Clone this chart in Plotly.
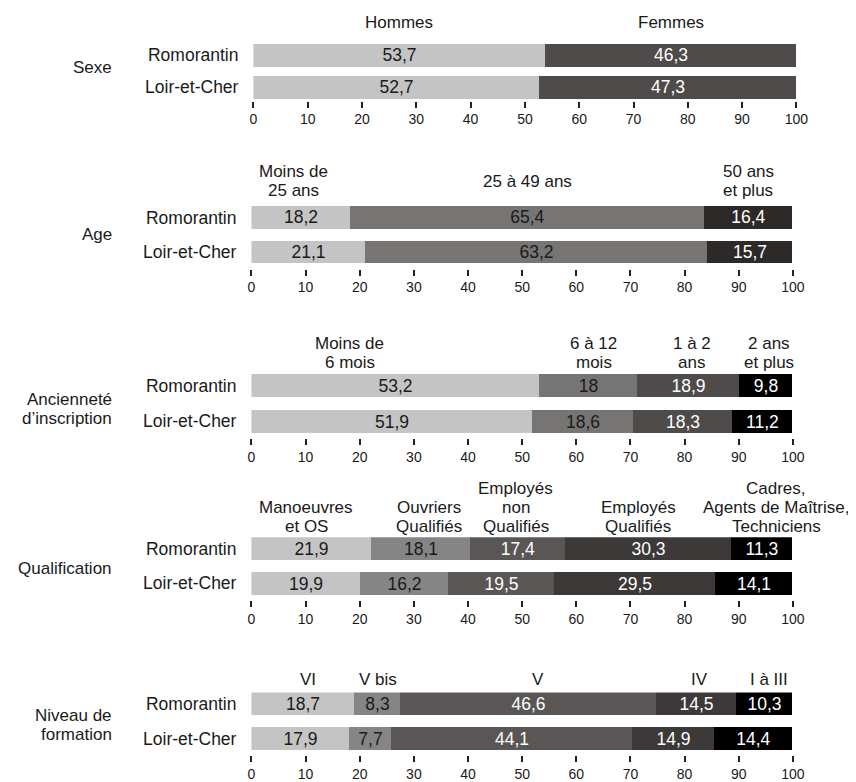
import plotly.graph_objects as go

W, H = 856, 782            # browser window
FW, FH = 864, 774          # figure size
# measured mapping from figure pixels to photographed pixels (horizontal)
SX, BX = 0.9825, 10.8
OY = 8                     # page body margin (vertical)
FONT = "Arial, 'Liberation Sans', sans-serif"

# ---------------- data ----------------
rows = ["Loir-et-Cher", "Romorantin"]

sexe_cats = ["Hommes", "Femmes"]
sexe_romo = [53.7, 46.3]
sexe_loir = [52.7, 47.3]

age_cats = ["Moins de<br>25 ans", "25 à 49 ans", "50 ans<br>et plus"]
age_romo = [18.2, 65.4, 16.4]
age_loir = [21.1, 63.2, 15.7]

anc_cats = ["Moins de<br>6 mois", "6 à 12<br>mois", "1 à 2<br>ans", "2 ans<br>et plus"]
anc_romo = [53.2, 18, 18.9, 9.8]
anc_loir = [51.9, 18.6, 18.3, 11.2]

qual_cats = ["Manoeuvres<br>et OS", "Ouvriers<br>Qualifiés", "Employés<br>non<br>Qualifiés",
             "Employés<br>Qualifiés", "Cadres,<br>Agents de Maîtrise,<br>Techniciens"]
qual_romo = [21.9, 18.1, 17.4, 30.3, 11.3]
qual_loir = [19.9, 16.2, 19.5, 29.5, 14.1]

niv_cats = ["VI", "V bis", "V", "IV", "I à III"]
niv_romo = [18.7, 8.3, 46.6, 14.5, 10.3]
niv_loir = [17.9, 7.7, 44.1, 14.9, 14.4]

titles = ["Sexe", "Age", "Ancienneté<br>d’inscription", "Qualification", "Niveau de<br>formation"]
x_ticks = [0, 10, 20, 30, 40, 50, 60, 70, 80, 90, 100]

# ---------------- styling / layout ----------------
C_L, C_M1, C_M2, C_D1, C_D2, C_K = "#c4c4c4", "#777573", "#868585", "#4f4b4a", "#3d3938", "#000000"
panels = [
    dict(cats=sexe_cats, romo=sexe_romo, loir=sexe_loir,
         colors=[C_L, C_D1], tcol=["#1a1a1a", "white"],
         x_px=(252.5, 796), y_px=(44, 101), yr=(-0.42, 1.36), bw=0.72,
         head_px=23, head_mode="bottom", head_dx=[0, 0], title_px=68),
    dict(cats=age_cats, romo=age_romo, loir=age_loir,
         colors=[C_L, C_M1, "#2d2928"], tcol=["#1a1a1a", "#1a1a1a", "white"],
         x_px=(250.5, 792.5), y_px=(207, 270), yr=(-0.483, 1.333), bw=0.665,
         head_px=182, head_mode="middle", head_dx=[-7, 0, 0], title_px=236),
    dict(cats=anc_cats, romo=anc_romo, loir=anc_loir,
         colors=[C_L, C_M1, C_D1, C_K], tcol=["#1a1a1a", "#1a1a1a", "white", "white"],
         x_px=(250.5, 792.5), y_px=(376, 440), yr=(-0.464, 1.32), bw=0.64,
         head_px=364, head_mode="bottom", head_dx=[-45, 5, 3, 3], title_px=411),
    dict(cats=qual_cats, romo=qual_romo, loir=qual_loir,
         colors=[C_L, C_M2, "#5a5655", C_D2, C_K], tcol=["#1a1a1a", "#1a1a1a", "white", "white", "white"],
         x_px=(250.5, 792.5), y_px=(540, 603), yr=(-0.477, 1.323), bw=0.657,
         head_px=529, head_mode="bottom", head_dx=[-5, 8, -2, -10, 14], title_px=571),
    dict(cats=niv_cats, romo=niv_romo, loir=niv_loir,
         colors=[C_L, C_M2, "#5a5655", C_D2, C_K], tcol=["#1a1a1a", "#1a1a1a", "white", "white", "white"],
         x_px=(250.5, 792.5), y_px=(696, 759), yr=(-0.477, 1.323), bw=0.657,
         head_px=683, head_mode="bottom", head_dx=[5, 1, 10, 3, 4], title_px=729),
]
LS = 19        # header line spacing px
HEAD_FS = 17
LABEL_FS = 17.5
ROW_FS = 17.5
TITLE_FS = 17


def px_x(px):
    return ((px - BX) / SX) / FW


def px_y(px):
    return 1 - (px - OY) / FH


def fmt(v):
    return f"{v:g}".replace(".", ",")


fig = go.Figure()
annotations = []
layout_axes = {}

for k, p in enumerate(panels, start=1):
    xa = "x" if k == 1 else f"x{k}"
    ya = "y" if k == 1 else f"y{k}"
    sr = sum(p["romo"])
    sl = sum(p["loir"])
    cum = 0.0
    for j, cat in enumerate(p["cats"]):
        xr = p["romo"][j] / sr * 100
        xl = p["loir"][j] / sl * 100
        fig.add_trace(go.Bar(
            y=rows, x=[xl, xr], orientation="h", width=p["bw"],
            marker=dict(color=p["colors"][j], line=dict(width=0)),
            text=[fmt(p["loir"][j]), fmt(p["romo"][j])],
            textposition="inside", insidetextanchor="middle", constraintext="none",
            textangle=0,
            textfont=dict(family=FONT, size=LABEL_FS, color=p["tcol"][j]),
            xaxis=xa, yaxis=ya, showlegend=False, hoverinfo="skip",
        ))
        # header label above the Romorantin segment
        lines = cat.split("<br>")
        n = len(lines)
        for i, line in enumerate(lines):
            if p["head_mode"] == "bottom":
                cy = p["head_px"] - (n - 1 - i) * LS
            else:
                cy = p["head_px"] - (n - 1) / 2 * LS + i * LS
            annotations.append(dict(
                text=line, xref=xa, yref="paper", x=cum + xr / 2, y=px_y(cy),
                xshift=p["head_dx"][j] / SX, xanchor="center", yanchor="middle",
                showarrow=False, font=dict(family=FONT, size=HEAD_FS, color="#1a1a1a")))
        cum += xr

    # panel title
    tl = titles[k - 1].split("<br>")
    n = len(tl)
    for i, line in enumerate(tl):
        cy = p["title_px"] - (n - 1) / 2 * 19 + i * 19
        annotations.append(dict(
            text=line, xref="paper", yref="paper", x=px_x(113), y=px_y(cy),
            xanchor="right", yanchor="middle", align="right", showarrow=False,
            font=dict(family=FONT, size=TITLE_FS, color="#1a1a1a")))

    xkey = "xaxis" if k == 1 else f"xaxis{k}"
    ykey = "yaxis" if k == 1 else f"yaxis{k}"
    layout_axes[xkey] = dict(
        domain=[px_x(p["x_px"][0]), px_x(p["x_px"][1])], range=[0, 100], anchor=ya,
        tickmode="array", tickvals=x_ticks, ticktext=[str(t) for t in x_ticks],
        ticks="outside", ticklen=6, tickwidth=1.5, tickcolor="#222",
        showline=False, showgrid=False, zeroline=False,
        tickfont=dict(family=FONT, size=14, color="#1a1a1a"), fixedrange=True)
    layout_axes[ykey] = dict(
        domain=[px_y(p["y_px"][1]), px_y(p["y_px"][0])], range=list(p["yr"]), anchor=xa,
        type="category", categoryorder="array", categoryarray=rows,
        showline=False, showgrid=False, zeroline=False, ticks="",
        ticklabelstandoff=14,
        tickfont=dict(family=FONT, size=ROW_FS, color="#1a1a1a"), fixedrange=True)

fig.update_layout(
    width=FW, height=FH, autosize=False,
    margin=dict(l=0, r=0, t=0, b=0),
    paper_bgcolor="white", plot_bgcolor="white",
    barmode="stack", bargap=0,
    font=dict(family=FONT, color="#1a1a1a"),
    annotations=annotations,
    **layout_axes,
)

fig.write_html("out.html")
